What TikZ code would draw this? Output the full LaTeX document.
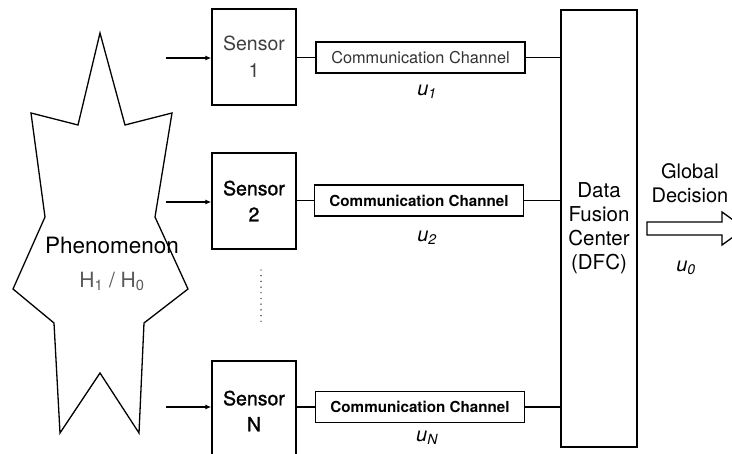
\documentclass[tikz,border=0pt]{standalone}
\usepackage{fontspec}
\setmainfont{TeX Gyre Heros}
\usetikzlibrary{arrows.meta}
\tikzset{
  sensorbox/.style={draw, line width=1.3pt, minimum width=84pt, minimum height=96pt, align=center, inner sep=0pt, font=\fontsize{19.5}{27}\selectfont},
  chanbox/.style={draw, line width=1.3pt, minimum width=209pt, minimum height=31pt, inner sep=0pt},
  wire/.style={line width=1.1pt},
  inarrow/.style={line width=1.3pt, -{Latex[length=6pt,width=5pt]}},
  ulabel/.style={font=\fontsize{20}{24}\selectfont\itshape, inner sep=0pt},
}
\newcommand{\ulab}[1]{u\textsubscript{\fontsize{14}{14}\selectfont\itshape #1}}
\begin{document}
\begin{tikzpicture}[x=1pt,y=-1pt]
\useasboundingbox (0,0) rectangle (732,454);
% phenomenon star
\draw[line width=1.3pt] (100,33) -- (125,125) -- (172,113) -- (155,217) -- (188,289) -- (144,323)
  -- (139,433) -- (100,373) -- (60,433) -- (54,323) -- (13,289) -- (45,217) -- (31,113) -- (78,125) -- cycle;
\node[align=center, font=\fontsize{22.5}{34}\selectfont, inner sep=0pt] (phen) at (112,264)
  {Phenomenon\\\textcolor{black!65}{\fontsize{21}{21}\selectfont H\textsubscript{1} / H\textsubscript{0}}};
% sensors
\node[sensorbox, text=black!75] (s1) at (254,57) {Sensor\\1};
\node[sensorbox, font=\fontsize{19.5}{26}\selectfont\addfontfeature{FakeBold=1.2}] (s2) at (254,201) {Sensor\\2};
\node[sensorbox, minimum height=100pt, font=\fontsize{19.5}{26}\selectfont\addfontfeature{FakeBold=1.2}] (sN) at (254,411) {Sensor\\N};
% inputs
\coordinate (i1) at (166,58);
\coordinate (i2) at (166,202);
\coordinate (iN) at (166,407);
\draw[inarrow] (i1) -- (s1.west |- i1);
\draw[inarrow] (i2) -- (s2.west |- i2);
\draw[inarrow] (iN) -- (sN.west |- iN);
% dots
\coordinate (d1) at (261,270);
\coordinate (d2) at (261,322);
\draw[line width=1.4pt, line cap=round, dash pattern=on 0pt off 5.7pt] (d1) -- (d2);
% channels
\node[chanbox, font=\fontsize{16.3}{18}\selectfont, text=black!80] (c1) at (420.5,57.5) {Communication Channel};
\node[chanbox, font=\fontsize{15.2}{18}\selectfont\bfseries] (c2) at (419,200.5) {Communication Channel};
\node[chanbox, font=\fontsize{15.2}{18}\selectfont\bfseries] (cN) at (420,407) {Communication Channel};
% DFC
\node[draw, line width=1.3pt, minimum width=76pt, minimum height=437pt, inner sep=0pt, align=center,
  font=\fontsize{20.5}{24}\selectfont] (dfc) at (599,228.5) {Data\\Fusion\\Center\\(DFC)};
% wires
\draw[wire] (s1.east |- c1) -- (c1.west);
\draw[wire] (s2.east |- c2) -- (c2.west);
\draw[wire] (sN.east |- cN) -- (cN.west);
\draw[wire] (c1.east) -- (c1.east -| dfc.west);
\draw[wire] (c2.east) -- (c2.east -| dfc.west);
\draw[wire] (cN.east) -- (cN.east -| dfc.west);
% u labels
\node[ulabel] (u1) at (427,92) {\ulab{1}};
\node[ulabel] (u2) at (427,238) {\ulab{2}};
\node[ulabel] (uN) at (427,438) {\ulab{N}};
% global decision
\node[align=center, font=\fontsize{20}{24}\selectfont, inner sep=0pt] (gd) at (690,183) {Global\\Decision};
\coordinate (ga) at (647,228.5);
\draw[line width=1.3pt] (ga) ++(0,-6.5) -- ++(75,0) -- ++(0,-10) -- ++(23,16.5) -- ++(-23,16.5) -- ++(0,-10) -- ++(-75,0) -- cycle;
\node[ulabel] (u0) at (686,268) {\ulab{0}};
\end{tikzpicture}
\end{document}
